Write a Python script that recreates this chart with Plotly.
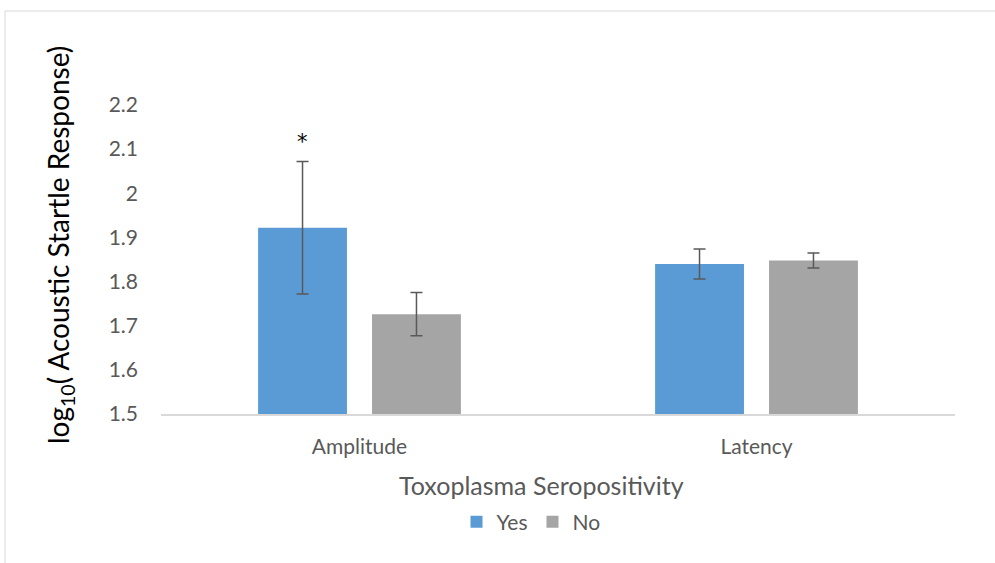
import plotly.graph_objects as go

# Data
categories = ["Amplitude", "Latency"]
yes_values = [1.922, 1.840]
yes_errors = [0.150, 0.034]
no_values = [1.726, 1.848]
no_errors = [0.049, 0.017]
y_ticks = [1.5, 1.6, 1.7, 1.8, 1.9, 2.0, 2.1, 2.2]
y_tick_text = ["1.5", "1.6", "1.7", "1.8", "1.9", "2", "2.1", "2.2"]

# Layout geometry (pixels)
W, H = 995, 563
L, R, T, B = 161, 40, 105, 149
plot_w = W - L - R
plot_h = H - T - B
bargap = 0.426
bargroupgap = 0.22


def px_x(px):
    return (px - L) / plot_w


def px_y(py):
    return (H - B - py) / plot_h


FONT = "Lato, Open Sans, sans-serif"
GREY_TXT = "#595959"
ERR_COL = "#595959"

fig = go.Figure()
fig.add_trace(go.Bar(
    x=categories, y=yes_values, name="Yes",
    marker=dict(color="#5B9BD5", line=dict(width=0)),
    error_y=dict(type="data", array=yes_errors, visible=True,
                 color=ERR_COL, thickness=1.5, width=6),
))
fig.add_trace(go.Bar(
    x=categories, y=no_values, name="No",
    marker=dict(color="#A5A5A5", line=dict(width=0)),
    error_y=dict(type="data", array=no_errors, visible=True,
                 color=ERR_COL, thickness=1.5, width=6),
))

# Significance marker above the Amplitude / Yes bar
slot = (plot_w / len(categories)) * (1 - bargap) / 2
fig.add_annotation(
    x=categories[0], y=yes_values[0] + yes_errors[0],
    xref="x", yref="y", text="*", showarrow=False,
    xshift=-slot / 2, yshift=20, yanchor="middle",
    font=dict(family="DejaVu Sans", size=21, color="#000000"),
)

# Y-axis title
fig.add_annotation(
    x=px_x(60), y=px_y(245), xref="paper", yref="paper",
    text="log<sub>10</sub>( Acoustic Startle Response)",
    textangle=-90, showarrow=False, xanchor="center", yanchor="middle",
    font=dict(family=FONT, size=28, color="#000000"),
)

# X-axis title
fig.add_annotation(
    x=px_x(541), y=px_y(485), xref="paper", yref="paper",
    text="Toxoplasma Seropositivity", showarrow=False,
    xanchor="center", yanchor="middle",
    font=dict(family=FONT, size=25, color=GREY_TXT),
)

# Chart border
fig.add_shape(
    type="rect", xref="paper", yref="paper",
    x0=px_x(5), x1=px_x(1010), y0=px_y(580), y1=px_y(11),
    line=dict(color="#D9D9D9", width=1), fillcolor="rgba(0,0,0,0)",
    layer="below",
)

fig.update_layout(
    width=W, height=H,
    margin=dict(l=L, r=R, t=T, b=B, pad=0),
    paper_bgcolor="white", plot_bgcolor="white",
    barmode="group", bargap=bargap, bargroupgap=bargroupgap,
    showlegend=True,
    legend=dict(
        orientation="h", x=px_x(531), xanchor="center",
        y=px_y(522), yanchor="middle",
        font=dict(family=FONT, size=21, color=GREY_TXT),
        itemwidth=30, bgcolor="rgba(0,0,0,0)",
    ),
    font=dict(family=FONT, color=GREY_TXT),
)

fig.update_xaxes(
    showline=True, linecolor="#D9D9D9", linewidth=1.5,
    showgrid=False, ticks="", ticklabelstandoff=13,
    tickfont=dict(family=FONT, size=21, color=GREY_TXT),
)
fig.update_yaxes(
    range=[1.5, 2.2], tickvals=y_ticks, ticktext=y_tick_text,
    showline=False, showgrid=False, zeroline=False, ticks="",
    ticklabelstandoff=22,
    tickfont=dict(family=FONT, size=21, color=GREY_TXT),
)

fig.write_html("out.html")
